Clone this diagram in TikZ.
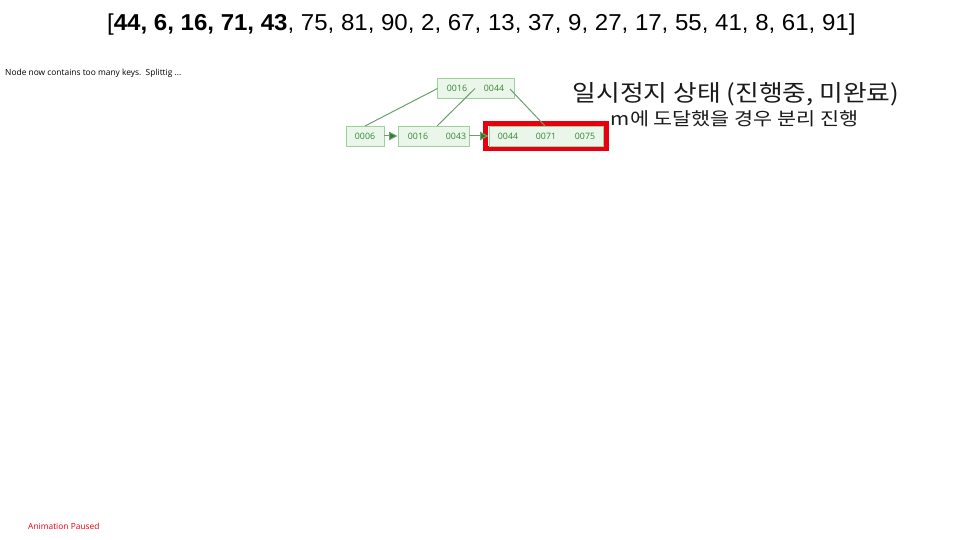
\documentclass[tikz,border=0pt]{standalone}
\usepackage{fontspec}
\setmainfont{Liberation Sans}
\newfontfamily\titlefont[FakeStretch=1.045]{Liberation Sans}
\newfontfamily\kr[FakeStretch=1.12]{Noto Sans CJK KR}
\newfontfamily\krb[FakeStretch=1.15]{Noto Sans CJK KR}
\newfontfamily\uifont{Open Sans}
\usetikzlibrary{arrows.meta}
\definecolor{boxfill}{HTML}{EAF6EA}
\definecolor{boxline}{HTML}{9ED09E}
\definecolor{keytext}{HTML}{338533}
\definecolor{edgecol}{HTML}{6E9E6E}
\definecolor{arrowcol}{HTML}{2E7D2E}
\definecolor{hired}{HTML}{E8000F}
\definecolor{krtext}{HTML}{1A1A1A}
\begin{document}
\begin{tikzpicture}[x=1pt,y=-1pt,
  btnode/.style={draw=boxline,fill=boxfill,line width=0.9pt,inner sep=0pt},
  keylab/.style={font=\uifont\fontsize{8.8}{9}\selectfont,text=keytext},
  treeedge/.style={draw=edgecol,line width=1pt},
  nextptr/.style={draw=edgecol,line width=1pt,-{Triangle[length=8.5pt,width=8.5pt,fill=arrowcol]}}]
\useasboundingbox (0,0) rectangle (960,540);
% title
\node[anchor=base west,inner sep=0pt,font=\titlefont\fontsize{23}{26}\selectfont] (title) at (107,31)
 {[\textbf{44, 6, 16, 71, 43}, 75, 81, 90, 2, 67, 13, 37, 9, 27, 17, 55, 41, 8, 61, 91]};
% status
\node[anchor=base west,inner sep=0pt,font=\uifont\fontsize{8.4}{9}\selectfont] (status) at (5,76)
 {Node now contains too many keys.\ \ Splittig ...};
\node[anchor=base west,inner sep=0pt,font=\uifont\fontsize{8.4}{9}\selectfont,text=hired] (paused) at (28,529)
 {Animation Paused};
% korean
\node[anchor=center,inner sep=0pt,text=krtext,font=\kr\fontsize{23}{25}\selectfont] (k1) at (736,94)
 {일시정지 상태 (진행중, 미완료)};
\node[anchor=center,inner sep=0pt,text=krtext,font=\krb\fontsize{18}{20}\selectfont] (k2) at (734.5,119)
 {m에 도달했을 경우 분리 진행};
% highlight
\node[draw=hired,line width=5pt,minimum width=121pt,minimum height=25pt,inner sep=0pt] (hl) at (546,136) {};
% nodes
\node[btnode,minimum width=77pt,minimum height=20pt] (root) at (475.5,88) {};
\node[btnode,minimum width=38pt,minimum height=20pt] (n1) at (365,136) {};
\node[btnode,minimum width=71pt,minimum height=20pt] (n2) at (433.5,136) {};
\node[btnode,minimum width=114pt,minimum height=20pt] (n3) at (546,136) {};
% keys
\node[keylab] (r1) at (457,88) {0016};
\node[keylab] (r2) at (494,88) {0044};
\node[keylab] (a1) at (365,136) {0006};
\node[keylab] (b1) at (418,136) {0016};
\node[keylab] (b2) at (456,136) {0043};
\node[keylab] (c1) at (508,136) {0044};
\node[keylab] (c2) at (546,136) {0071};
\node[keylab] (c3) at (585,136) {0075};
% coordinates for edges
\coordinate (p0) at (437.5,88.5);
\coordinate (p1) at (475,88.5);
\coordinate (p2) at (510,89);
\coordinate (q0) at (365,126);
\coordinate (q1) at (437,126);
\coordinate (q2) at (545,126);
\draw[treeedge] (p0) -- (q0);
\draw[treeedge] (p1) -- (q1);
\draw[treeedge] (p2) -- (q2);
\draw[nextptr] (n1.east) -- (n2.west);
\draw[nextptr] (n2.east) -- (n3.west);
\end{tikzpicture}
\end{document}
